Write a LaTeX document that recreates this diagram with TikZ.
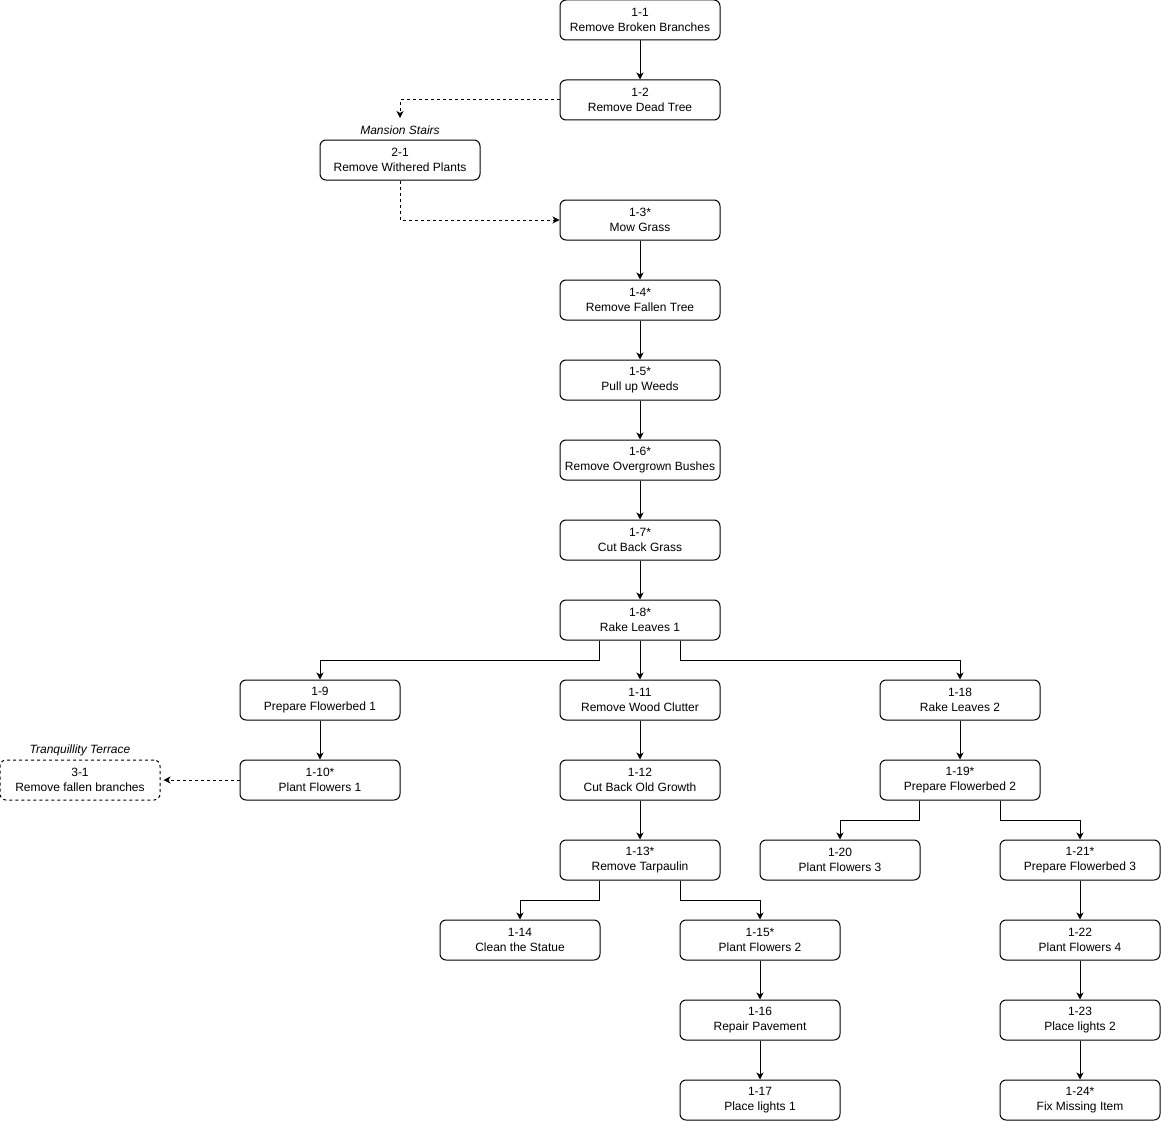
\documentclass[tikz,border=0pt]{standalone}
\usepackage{fontspec}
\setmainfont{Liberation Sans}
\usetikzlibrary{arrows.meta}
\begin{document}
\begin{tikzpicture}[x=1pt,y=-1pt,line width=1pt,
  task/.style={draw,rounded corners=6pt,minimum width=160pt,minimum height=40pt,
    inner sep=0pt,align=center,font=\fontsize{12}{15}\selectfont},
  farbox/.style={task,dash pattern=on 3pt off 3pt},
  area/.style={font=\fontsize{12}{15}\selectfont\itshape},
  link/.style={-{Stealth[length=7pt,width=7pt,inset=2pt]}},
  farlink/.style={link,dash pattern=on 3pt off 3pt}]
  \useasboundingbox (0,0) rectangle (1161,1121);

  \node[task] (a1) at (640,20) {1-1\\Remove Broken Branches};
  \node[task] (a2) at (640,100) {1-2\\Remove Dead Tree};
  \node[task] (b1) at (400,160) {2-1\\Remove Withered Plants};
  \node[area] (bl) at (400,130) {Mansion Stairs};
  \coordinate (btip) at (400,118);
  \node[task] (a3) at (640,220) {1-3*\\Mow Grass};
  \node[task] (a4) at (640,300) {1-4*\\Remove Fallen Tree};
  \node[task] (a5) at (640,380) {1-5*\\Pull up Weeds};
  \node[task] (a6) at (640,460) {1-6*\\Remove Overgrown Bushes};
  \node[task] (a7) at (640,540) {1-7*\\Cut Back Grass};
  \node[task] (a8) at (640,620) {1-8*\\Rake Leaves 1};
  \node[task] (a9) at (320,700) {1-9\\Prepare Flowerbed 1};
  \node[task] (a11) at (640,700) {1-11\\Remove Wood Clutter};
  \node[task] (a18) at (960,700) {1-18\\Rake Leaves 2};
  \node[task] (a10) at (320,780) {1-10*\\Plant Flowers 1};
  \node[farbox] (c1) at (80,780) {3-1\\Remove fallen branches};
  \node[area] (cl) at (80,750) {Tranquillity Terrace};
  \node[task] (a12) at (640,780) {1-12\\Cut Back Old Growth};
  \node[task] (a19) at (960,780) {1-19*\\Prepare Flowerbed 2};
  \node[task] (a13) at (640,860) {1-13*\\Remove Tarpaulin};
  \node[task] (a20) at (840,860) {1-20\\Plant Flowers 3};
  \node[task] (a21) at (1080,860) {1-21*\\Prepare Flowerbed 3};
  \node[task] (a14) at (520,940) {1-14\\Clean the Statue};
  \node[task] (a15) at (760,940) {1-15*\\Plant Flowers 2};
  \node[task] (a22) at (1080,940) {1-22\\Plant Flowers 4};
  \node[task] (a16) at (760,1020) {1-16\\Repair Pavement};
  \node[task] (a23) at (1080,1020) {1-23\\Place lights 2};
  \node[task] (a17) at (760,1100) {1-17\\Place lights 1};
  \node[task] (a24) at (1080,1100) {1-24*\\Fix Missing Item};

  % straight links
  \draw[link] (a1) -- (a2);
  \draw[link] (a3) -- (a4);
  \draw[link] (a4) -- (a5);
  \draw[link] (a5) -- (a6);
  \draw[link] (a6) -- (a7);
  \draw[link] (a7) -- (a8);
  \draw[link] (a8) -- (a11);
  \draw[link] (a9) -- (a10);
  \draw[link] (a11) -- (a12);
  \draw[link] (a12) -- (a13);
  \draw[link] (a15) -- (a16);
  \draw[link] (a16) -- (a17);
  \draw[link] (a18) -- (a19);
  \draw[link] (a21) -- (a22);
  \draw[link] (a22) -- (a23);
  \draw[link] (a23) -- (a24);

  % other areas
  \draw[farlink] (a2.west) -| (btip);
  \draw[farlink] (b1.south) |- (a3.west);
  \draw[farlink] (a10.west) -- ([xshift=3pt]c1.east);

  % branches
  \draw[link] ([xshift=40pt]a8.south west) -- ++(0,20) -| (a9.north);
  \draw[link] ([xshift=-40pt]a8.south east) -- ++(0,20) -| (a18.north);
  \draw[link] ([xshift=40pt]a13.south west) -- ++(0,20) -| (a14.north);
  \draw[link] ([xshift=-40pt]a13.south east) -- ++(0,20) -| (a15.north);
  \draw[link] ([xshift=40pt]a19.south west) -- ++(0,20) -| (a20.north);
  \draw[link] ([xshift=-40pt]a19.south east) -- ++(0,20) -| (a21.north);
\end{tikzpicture}
\end{document}
